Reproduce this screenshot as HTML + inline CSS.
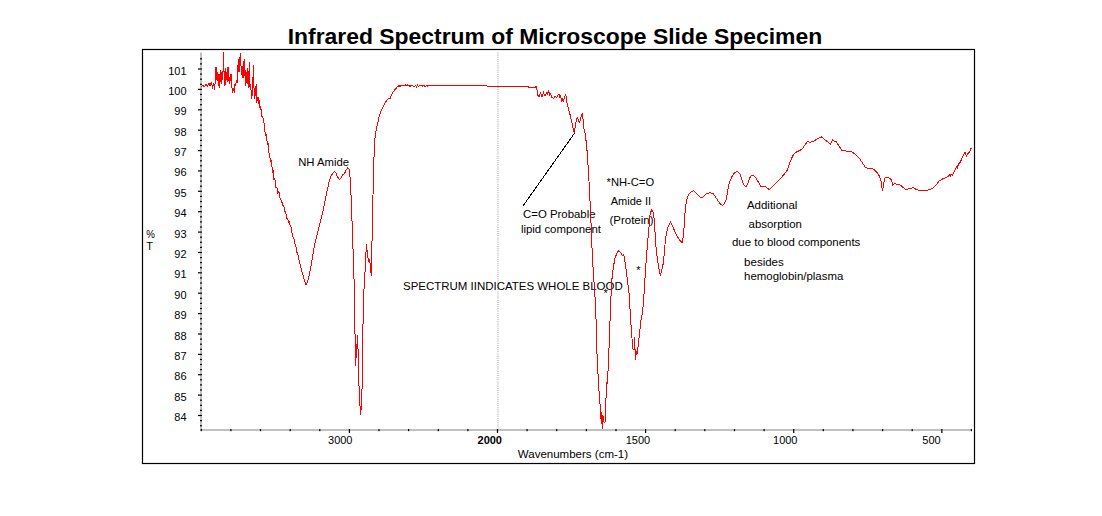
<!DOCTYPE html>
<html><head><meta charset="utf-8"><title>Infrared Spectrum</title>
<style>
html,body{margin:0;padding:0;background:#fff;}
body{width:1102px;height:516px;overflow:hidden;font-family:"Liberation Sans",sans-serif;}
svg{display:block;}
.t{font-family:"Liberation Sans",sans-serif;font-size:11px;fill:#000;}
.b{font-weight:bold;}
.title{font-family:"Liberation Sans",sans-serif;font-size:22px;font-weight:bold;fill:#000;}
</style></head><body>
<svg width="1102" height="516" viewBox="0 0 1102 516">
<rect width="1102" height="516" fill="#fff"/>
<rect x="142.5" y="49.5" width="832" height="414" fill="none" stroke="#000" stroke-width="1.2"/>
<line x1="498" y1="52.5" x2="498" y2="429" stroke="#cdcdcd" stroke-width="2" stroke-dasharray="1,1.15"/>
<rect x="200" y="52.5" width="2" height="378.5" fill="#c0c0c0"/>
<rect x="200" y="429" width="772" height="2" fill="#c0c0c0"/>
<rect x="200" y="58.2" width="2" height="1.2" fill="#000"/>
<rect x="200" y="63.3" width="2" height="1.2" fill="#000"/>
<rect x="198" y="68.4" width="4" height="1.2" fill="#000"/>
<rect x="200" y="73.5" width="2" height="1.2" fill="#000"/>
<rect x="200" y="78.6" width="2" height="1.2" fill="#000"/>
<rect x="200" y="83.7" width="2" height="1.2" fill="#000"/>
<rect x="198" y="88.8" width="4" height="1.2" fill="#000"/>
<rect x="200" y="93.9" width="2" height="1.2" fill="#000"/>
<rect x="200" y="99.0" width="2" height="1.2" fill="#000"/>
<rect x="200" y="104.1" width="2" height="1.2" fill="#000"/>
<rect x="198" y="109.2" width="4" height="1.2" fill="#000"/>
<rect x="200" y="114.3" width="2" height="1.2" fill="#000"/>
<rect x="200" y="119.4" width="2" height="1.2" fill="#000"/>
<rect x="200" y="124.5" width="2" height="1.2" fill="#000"/>
<rect x="198" y="129.6" width="4" height="1.2" fill="#000"/>
<rect x="200" y="134.7" width="2" height="1.2" fill="#000"/>
<rect x="200" y="139.8" width="2" height="1.2" fill="#000"/>
<rect x="200" y="144.9" width="2" height="1.2" fill="#000"/>
<rect x="198" y="150.0" width="4" height="1.2" fill="#000"/>
<rect x="200" y="155.1" width="2" height="1.2" fill="#000"/>
<rect x="200" y="160.2" width="2" height="1.2" fill="#000"/>
<rect x="200" y="165.2" width="2" height="1.2" fill="#000"/>
<rect x="198" y="170.3" width="4" height="1.2" fill="#000"/>
<rect x="200" y="175.4" width="2" height="1.2" fill="#000"/>
<rect x="200" y="180.5" width="2" height="1.2" fill="#000"/>
<rect x="200" y="185.6" width="2" height="1.2" fill="#000"/>
<rect x="198" y="190.7" width="4" height="1.2" fill="#000"/>
<rect x="200" y="195.8" width="2" height="1.2" fill="#000"/>
<rect x="200" y="200.9" width="2" height="1.2" fill="#000"/>
<rect x="200" y="206.0" width="2" height="1.2" fill="#000"/>
<rect x="198" y="211.1" width="4" height="1.2" fill="#000"/>
<rect x="200" y="216.2" width="2" height="1.2" fill="#000"/>
<rect x="200" y="221.3" width="2" height="1.2" fill="#000"/>
<rect x="200" y="226.4" width="2" height="1.2" fill="#000"/>
<rect x="198" y="231.5" width="4" height="1.2" fill="#000"/>
<rect x="200" y="236.6" width="2" height="1.2" fill="#000"/>
<rect x="200" y="241.7" width="2" height="1.2" fill="#000"/>
<rect x="200" y="246.8" width="2" height="1.2" fill="#000"/>
<rect x="198" y="251.9" width="4" height="1.2" fill="#000"/>
<rect x="200" y="257.0" width="2" height="1.2" fill="#000"/>
<rect x="200" y="262.0" width="2" height="1.2" fill="#000"/>
<rect x="200" y="267.1" width="2" height="1.2" fill="#000"/>
<rect x="198" y="272.2" width="4" height="1.2" fill="#000"/>
<rect x="200" y="277.3" width="2" height="1.2" fill="#000"/>
<rect x="200" y="282.4" width="2" height="1.2" fill="#000"/>
<rect x="200" y="287.5" width="2" height="1.2" fill="#000"/>
<rect x="198" y="292.6" width="4" height="1.2" fill="#000"/>
<rect x="200" y="297.7" width="2" height="1.2" fill="#000"/>
<rect x="200" y="302.8" width="2" height="1.2" fill="#000"/>
<rect x="200" y="307.9" width="2" height="1.2" fill="#000"/>
<rect x="198" y="313.0" width="4" height="1.2" fill="#000"/>
<rect x="200" y="318.1" width="2" height="1.2" fill="#000"/>
<rect x="200" y="323.2" width="2" height="1.2" fill="#000"/>
<rect x="200" y="328.3" width="2" height="1.2" fill="#000"/>
<rect x="198" y="333.4" width="4" height="1.2" fill="#000"/>
<rect x="200" y="338.5" width="2" height="1.2" fill="#000"/>
<rect x="200" y="343.6" width="2" height="1.2" fill="#000"/>
<rect x="200" y="348.7" width="2" height="1.2" fill="#000"/>
<rect x="198" y="353.8" width="4" height="1.2" fill="#000"/>
<rect x="200" y="358.9" width="2" height="1.2" fill="#000"/>
<rect x="200" y="363.9" width="2" height="1.2" fill="#000"/>
<rect x="200" y="369.0" width="2" height="1.2" fill="#000"/>
<rect x="198" y="374.1" width="4" height="1.2" fill="#000"/>
<rect x="200" y="379.2" width="2" height="1.2" fill="#000"/>
<rect x="200" y="384.3" width="2" height="1.2" fill="#000"/>
<rect x="200" y="389.4" width="2" height="1.2" fill="#000"/>
<rect x="198" y="394.5" width="4" height="1.2" fill="#000"/>
<rect x="200" y="399.6" width="2" height="1.2" fill="#000"/>
<rect x="200" y="404.7" width="2" height="1.2" fill="#000"/>
<rect x="200" y="409.8" width="2" height="1.2" fill="#000"/>
<rect x="198" y="414.9" width="4" height="1.2" fill="#000"/>
<rect x="200" y="420.0" width="2" height="1.2" fill="#000"/>
<rect x="200" y="425.1" width="2" height="1.2" fill="#000"/>
<rect x="200.7" y="429" width="1.2" height="2.2" fill="#000"/>
<rect x="230.3" y="429" width="1.2" height="2.2" fill="#000"/>
<rect x="259.9" y="429" width="1.2" height="2.2" fill="#000"/>
<rect x="289.6" y="429" width="1.2" height="2.2" fill="#000"/>
<rect x="319.2" y="429" width="1.2" height="2.2" fill="#000"/>
<rect x="348.8" y="429" width="1.2" height="4" fill="#000"/>
<rect x="378.4" y="429" width="1.2" height="2.2" fill="#000"/>
<rect x="408.0" y="429" width="1.2" height="2.2" fill="#000"/>
<rect x="437.7" y="429" width="1.2" height="2.2" fill="#000"/>
<rect x="467.3" y="429" width="1.2" height="2.2" fill="#000"/>
<rect x="496.9" y="429" width="1.2" height="4" fill="#000"/>
<rect x="526.5" y="429" width="1.2" height="2.2" fill="#000"/>
<rect x="556.1" y="429" width="1.2" height="2.2" fill="#000"/>
<rect x="585.8" y="429" width="1.2" height="2.2" fill="#000"/>
<rect x="615.4" y="429" width="1.2" height="2.2" fill="#000"/>
<rect x="645.0" y="429" width="1.2" height="4" fill="#000"/>
<rect x="674.6" y="429" width="1.2" height="2.2" fill="#000"/>
<rect x="704.2" y="429" width="1.2" height="2.2" fill="#000"/>
<rect x="733.9" y="429" width="1.2" height="2.2" fill="#000"/>
<rect x="763.5" y="429" width="1.2" height="2.2" fill="#000"/>
<rect x="793.1" y="429" width="1.2" height="4" fill="#000"/>
<rect x="822.7" y="429" width="1.2" height="2.2" fill="#000"/>
<rect x="852.3" y="429" width="1.2" height="2.2" fill="#000"/>
<rect x="882.0" y="429" width="1.2" height="2.2" fill="#000"/>
<rect x="911.6" y="429" width="1.2" height="2.2" fill="#000"/>
<rect x="941.2" y="429" width="1.2" height="4" fill="#000"/>
<rect x="970.8" y="429" width="1.2" height="2.2" fill="#000"/>
<text x="186.6" y="421.0" text-anchor="end" class="t">84</text>
<text x="186.6" y="400.6" text-anchor="end" class="t">85</text>
<text x="186.6" y="380.2" text-anchor="end" class="t">86</text>
<text x="186.6" y="359.9" text-anchor="end" class="t">87</text>
<text x="186.6" y="339.5" text-anchor="end" class="t">88</text>
<text x="186.6" y="319.1" text-anchor="end" class="t">89</text>
<text x="186.6" y="298.7" text-anchor="end" class="t">90</text>
<text x="186.6" y="278.3" text-anchor="end" class="t">91</text>
<text x="186.6" y="258.0" text-anchor="end" class="t">92</text>
<text x="186.6" y="237.6" text-anchor="end" class="t">93</text>
<text x="186.6" y="217.2" text-anchor="end" class="t">94</text>
<text x="186.6" y="196.8" text-anchor="end" class="t">95</text>
<text x="186.6" y="176.4" text-anchor="end" class="t">96</text>
<text x="186.6" y="156.1" text-anchor="end" class="t">97</text>
<text x="186.6" y="135.7" text-anchor="end" class="t">98</text>
<text x="186.6" y="115.3" text-anchor="end" class="t">99</text>
<text x="186.6" y="94.9" text-anchor="end" class="t">100</text>
<text x="186.6" y="74.5" text-anchor="end" class="t">101</text>
<text x="352.5" y="443.8" text-anchor="end" class="t">3000</text>
<text x="502" y="443.8" text-anchor="end" class="t b">2000</text>
<text x="650.2" y="443.8" text-anchor="end" class="t">1500</text>
<text x="797.5" y="443.8" text-anchor="end" class="t">1000</text>
<text x="940.7" y="443.8" text-anchor="end" class="t">500</text>
<text x="517.8" y="457.8" textLength="110.3" lengthAdjust="spacingAndGlyphs" class="t">Wavenumbers (cm-1)</text>
<text x="146.2" y="237.7" textLength="8.6" lengthAdjust="spacingAndGlyphs" class="t">%</text>
<text x="146.2" y="250.4" class="t">T</text>
<text x="298.2" y="165.7" textLength="50.9" lengthAdjust="spacingAndGlyphs" class="t">NH Amide</text>
<text x="523.1" y="218.4" textLength="72.4" lengthAdjust="spacingAndGlyphs" class="t">C=O Probable</text>
<text x="520.9" y="233.1" textLength="80.1" lengthAdjust="spacingAndGlyphs" class="t">lipid component</text>
<text x="606.6" y="186.3" textLength="47.5" lengthAdjust="spacingAndGlyphs" class="t">*NH-C=O</text>
<text x="610.7" y="205" textLength="40.5" lengthAdjust="spacingAndGlyphs" class="t">Amide II</text>
<text x="609.4" y="223.5" textLength="44.2" lengthAdjust="spacingAndGlyphs" class="t">(Protein)</text>
<text x="403" y="289.5" textLength="219.7" lengthAdjust="spacingAndGlyphs" class="t">SPECTRUM IINDICATES WHOLE BLOOD</text>
<text x="636.2" y="273.5" class="t">*</text>
<text x="603.6" y="297" class="t">*</text>
<text x="746.9" y="208.8" textLength="50.5" lengthAdjust="spacingAndGlyphs" class="t">Additional</text>
<text x="748.6" y="228" textLength="53.3" lengthAdjust="spacingAndGlyphs" class="t">absorption</text>
<text x="732" y="245.9" textLength="128.3" lengthAdjust="spacingAndGlyphs" class="t">due to blood components</text>
<text x="744.1" y="265.7" textLength="39.7" lengthAdjust="spacingAndGlyphs" class="t">besides</text>
<text x="744.1" y="279.6" textLength="99.2" lengthAdjust="spacingAndGlyphs" class="t">hemoglobin/plasma</text>
<line x1="574.6" y1="133.1" x2="523.1" y2="205.8" stroke="#000" stroke-width="1" shape-rendering="crispEdges"/>
<path d="M201.5,86.5 L203.0,85.5 L204.5,86.8 L206.0,84.5 L207.5,86.0 L209.0,83.5 L210.0,86.0 L211.5,82.0 L212.5,88.5 L213.5,83.0 L214.7,89.5 L215.5,75.0 L216.0,66.7 L216.8,80.0 L217.5,72.0 L218.3,86.0 L219.0,74.0 L219.8,88.0 L220.5,70.0 L221.3,84.0 L222.0,72.0 L222.8,80.0 L223.5,52.5 L224.2,78.0 L225.0,86.0 L225.8,68.0 L226.5,80.0 L227.3,67.0 L228.0,82.0 L228.6,67.0 L229.3,84.0 L230.2,80.0 L231.0,74.0 L231.8,86.0 L232.5,92.5 L233.4,88.0 L234.3,92.5 L235.0,84.0 L235.7,86.0 L236.4,80.0 L237.0,83.0 L237.7,70.0 L238.4,58.6 L239.0,72.0 L239.7,60.0 L240.5,53.4 L241.1,68.0 L241.8,75.0 L242.4,66.0 L243.0,78.0 L243.6,70.0 L244.1,58.6 L244.8,76.0 L245.4,70.0 L245.9,85.7 L246.5,72.0 L247.2,84.0 L247.8,68.0 L248.5,88.0 L249.3,62.0 L249.8,84.0 L250.2,90.0 L250.8,84.0 L251.3,99.3 L252.0,92.0 L252.6,96.0 L253.3,64.7 L254.0,88.0 L254.7,99.3 L255.4,92.0 L256.3,83.7 L256.7,103.3 L257.4,98.0 L258.1,97.9 L258.8,104.0 L259.5,100.0 L260.2,110.4 L260.8,106.0 L261.5,114.2 L262.0,116.6 L262.8,116.8 L263.7,121.6 L264.5,125.1 L265.4,136.3 L266.3,133.8 L267.3,144.2 L268.1,144.0 L268.7,151.5 L269.7,155.7 L270.6,162.1 L271.5,160.1 L272.4,172.5 L273.1,170.3 L274.0,180.3 L274.9,178.7 L275.9,187.1 L276.9,187.1 L277.8,193.0 L278.9,191.3 L279.7,197.7 L280.6,198.3 L281.4,201.9 L282.1,202.4 L283.1,206.5 L283.8,205.7 L284.8,211.8 L285.6,211.5 L286.7,218.2 L287.7,218.4 L288.5,222.2 L289.6,221.6 L290.2,226.2 L291.0,226.8 L291.8,232.5 L292.5,233.6 L293.3,238.4 L294.2,239.3 L295.2,245.7 L296.1,247.1 L296.7,252.1 L297.7,253.4 L298.7,259.6 L299.5,261.5 L300.4,266.0 L301.9,271.4 L303.5,277.0 L305.0,282.0 L306.0,284.6 L307.0,283.0 L308.5,278.0 L310.0,271.4 L312.0,260.0 L313.5,251.0 L315.1,242.9 L317.0,235.0 L319.0,227.0 L321.2,218.5 L323.0,211.0 L325.0,201.0 L327.3,190.0 L329.0,182.0 L330.4,177.5 L332.5,173.5 L334.5,171.4 L336.0,173.0 L337.5,177.0 L339.6,179.6 L341.0,178.0 L342.5,175.0 L344.6,173.5 L346.0,170.0 L347.7,167.8 L348.8,168.5 L349.7,171.4 L350.8,190.0 L352.4,230.7 L353.8,271.4 L354.3,290.0 L354.9,323.6 L355.4,365.8 L356.6,350.0 L357.6,335.2 L358.3,358.5 L358.8,381.7 L359.6,400.0 L360.7,415.2 L361.5,402.0 L362.2,384.7 L362.7,344.0 L363.4,300.0 L365.0,272.0 L366.4,244.5 L367.5,254.0 L368.7,262.3 L369.7,259.2 L370.5,268.0 L371.3,275.5 L371.7,255.1 L372.7,210.4 L373.5,171.4 L374.6,140.9 L375.9,132.0 L377.3,125.0 L378.8,118.0 L380.5,112.4 L382.5,107.8 L384.3,104.0 L386.0,101.4 L387.8,99.1 L390.3,98.2 L391.5,95.0 L393.2,91.5 L394.5,90.3 L397.0,87.2 L398.5,86.0 L399.4,85.7 L400.3,86.7 L401.2,85.0 L402.1,86.0 L403.0,85.6 L403.9,85.0 L404.8,85.9 L405.7,85.0 L406.6,85.8 L407.5,85.0 L408.4,85.1 L409.3,85.7 L410.2,86.6 L411.1,85.1 L412.0,85.3 L412.9,86.2 L413.8,86.8 L414.7,86.1 L415.6,85.7 L416.5,86.9 L417.4,85.0 L418.3,86.6 L419.2,85.5 L420.1,85.2 L421.0,85.1 L421.9,85.5 L422.8,86.5 L423.7,85.3 L424.6,86.1 L425.5,86.2 L426.4,85.6 L427.3,86.0 L428.2,85.0 L429.1,85.0 L430.0,85.3 L430.5,85.0 L459.7,85.0 L460.0,85.7 L486.9,85.7 L487.2,86.3 L528.2,86.3 L528.6,87.3 L535.4,87.3 L535.9,86.3 L536.6,86.3 L537.6,95.0 L539.0,96.5 L540.5,93.0 L542.0,97.0 L543.5,92.5 L545.0,96.0 L546.5,93.0 L547.5,95.0 L548.5,89.8 L549.5,95.0 L550.5,93.5 L552.0,97.5 L553.7,98.2 L555.0,96.0 L556.5,97.5 L558.9,94.0 L559.8,98.0 L560.5,95.0 L561.6,102.4 L562.5,99.0 L563.5,101.0 L564.5,97.0 L565.8,94.0 L566.4,100.0 L567.2,104.4 L568.5,109.0 L570.4,115.9 L572.0,123.0 L574.1,132.6 L575.2,127.0 L576.2,121.0 L577.3,117.0 L578.3,120.0 L579.4,123.2 L580.5,119.0 L581.5,115.0 L582.3,113.2 L582.9,118.0 L583.9,128.4 L585.5,135.3 L587.4,154.3 L589.0,181.4 L590.4,208.5 L591.5,235.0 L592.4,258.1 L594.8,293.0 L595.9,315.0 L597.1,356.5 L598.7,386.7 L600.1,405.3 L601.0,419.3 L601.5,412.3 L602.2,428.6 L602.9,414.7 L603.5,420.0 L604.1,422.8 L605.2,421.6 L605.9,403.0 L606.4,382.1 L607.1,384.4 L607.6,379.8 L608.7,356.5 L609.9,324.0 L610.8,300.0 L611.7,281.4 L613.2,268.0 L615.0,258.1 L617.0,253.0 L618.7,250.7 L620.5,252.5 L622.7,255.8 L623.8,254.7 L624.8,261.0 L626.2,269.8 L627.5,281.0 L629.0,293.0 L630.1,310.0 L631.5,333.3 L633.1,349.5 L634.1,349.5 L634.5,336.7 L635.5,360.0 L636.4,351.9 L637.3,353.0 L639.0,337.9 L640.8,321.6 L642.6,312.0 L644.1,293.0 L645.5,269.8 L647.0,250.0 L648.3,234.9 L650.1,214.0 L651.7,209.8 L653.0,212.0 L654.1,218.6 L655.0,232.0 L655.9,246.5 L657.3,258.0 L658.7,267.4 L660.3,275.6 L661.8,270.0 L663.4,262.8 L664.5,250.0 L665.7,237.2 L668.0,226.7 L670.3,222.1 L672.0,225.0 L673.8,229.1 L676.0,234.0 L678.5,238.4 L680.5,241.0 L682.0,242.6 L683.0,238.0 L683.8,230.2 L684.6,220.0 L685.4,206.8 L686.8,200.0 L688.5,194.9 L691.0,192.0 L693.5,190.6 L695.5,192.5 L697.8,194.9 L700.0,197.0 L702.1,198.2 L704.0,196.0 L706.5,193.4 L710.0,192.8 L713.0,193.4 L715.5,197.0 L718.4,201.4 L720.5,204.0 L722.8,205.3 L724.5,203.5 L726.0,200.3 L727.5,192.0 L729.3,183.0 L731.5,177.5 L733.6,173.8 L736.0,172.0 L738.0,171.7 L740.1,174.3 L741.8,179.0 L743.4,184.0 L745.0,186.0 L746.6,186.2 L748.3,182.0 L749.9,177.5 L751.3,176.0 L752.7,175.4 L754.5,176.5 L756.4,178.6 L758.5,182.5 L760.8,186.2 L763.0,187.0 L765.1,186.2 L767.3,188.3 L769.4,189.5 L772.0,187.0 L774.9,184.0 L778.0,181.0 L781.4,177.5 L784.0,174.5 L786.8,171.0 L789.0,165.0 L791.2,159.1 L793.3,155.0 L795.5,152.6 L798.5,151.0 L802.0,149.3 L804.8,145.0 L807.4,141.7 L810.0,142.3 L812.9,141.7 L817.0,139.0 L821.5,136.9 L823.5,138.5 L825.9,140.6 L828.0,142.0 L830.4,144.3 L831.5,141.5 L832.6,140.0 L834.5,141.2 L836.3,141.7 L839.0,146.0 L841.7,150.4 L846.0,151.0 L851.5,151.5 L855.5,154.5 L859.1,158.0 L862.5,163.0 L865.6,167.8 L869.0,168.4 L872.1,168.2 L875.0,170.5 L877.5,173.2 L879.3,176.0 L880.8,179.7 L881.7,186.0 L882.5,190.6 L883.5,185.0 L884.7,178.2 L887.0,177.5 L889.5,178.2 L891.6,179.7 L892.2,183.0 L892.7,185.1 L893.8,184.0 L894.9,183.6 L897.5,184.5 L900.3,185.1 L903.0,187.5 L905.8,189.5 L909.5,188.5 L913.4,187.7 L915.5,189.0 L917.7,189.9 L921.5,190.6 L925.3,191.0 L929.0,189.8 L932.9,188.4 L936.0,185.0 L939.4,180.8 L942.5,179.0 L945.9,177.5 L948.0,176.8 L949.5,175.0 L950.3,177.0 L951.2,174.0 L952.4,175.4 L954.5,171.0 L956.8,166.7 L957.5,168.0 L958.2,164.5 L959.7,163.0 L961.1,160.2 L963.0,156.0 L965.0,152.1 L965.8,154.5 L966.5,155.8 L968.0,153.5 L969.8,151.5 L971.3,147.8" fill="none" stroke="#ff0000" stroke-width="1" stroke-linejoin="miter" stroke-miterlimit="3" shape-rendering="crispEdges"/>
<text x="287.7" y="43.6" textLength="534.5" lengthAdjust="spacingAndGlyphs" class="title">Infrared Spectrum of Microscope Slide Specimen</text>
</svg>
</body></html>
